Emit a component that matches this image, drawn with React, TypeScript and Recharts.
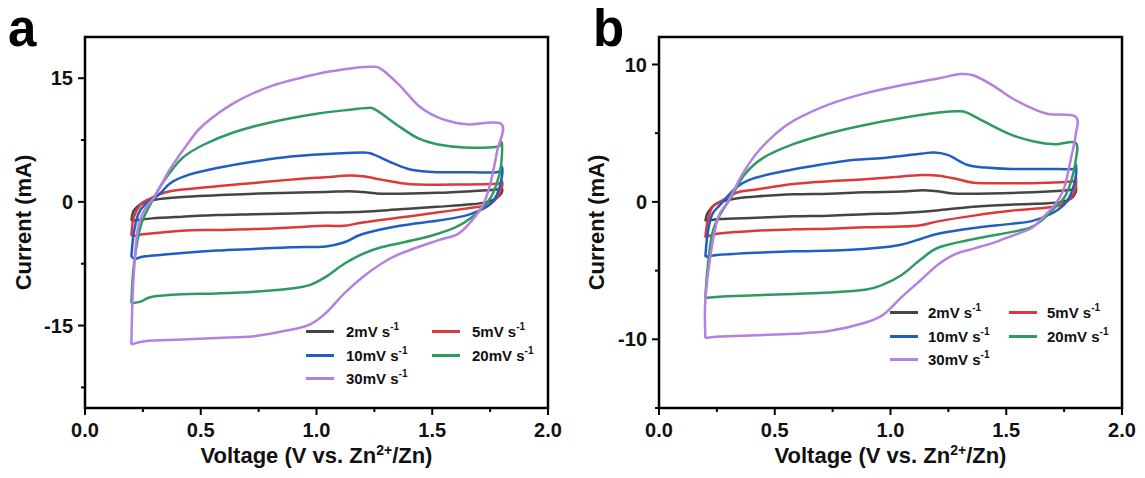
import React from 'react';
import { LineChart, Line, XAxis, YAxis, ReferenceArea, Legend } from 'recharts';

type Pt = [number, number];

// scan rates (mV/s) and colours
const RATES = ['2', '5', '10', '20', '30'];
const COLORS = ['#454545', '#dc3a3a', '#1f5fc4', '#2f9a60', '#b680df'];

// voltage ticks
const X_TICKS = [0, 0.25, 0.5, 0.75, 1, 1.25, 1.5, 1.75, 2];

// panel a: [V, mA] loops (anodic branch then cathodic branch)
const a2: Pt[] = [[0.2,-2.3],[0.21,-1.1],[0.24,-0.3],[0.275,0.1],[0.34,0.4],[0.42,0.6],[0.57,0.8],[0.73,1.0],[0.89,1.1],[1.04,1.2],[1.14,1.3],[1.2,1.2],[1.28,1.0],[1.36,1.0],[1.52,1.1],[1.67,1.3],[1.78,1.5],[1.8,1.7],
  [1.8,1.1],[1.78,0.5],[1.74,0],[1.67,-0.3],[1.52,-0.6],[1.36,-0.9],[1.2,-1.2],[1.04,-1.3],[0.89,-1.4],[0.73,-1.5],[0.57,-1.6],[0.42,-1.8],[0.29,-2.0],[0.23,-2.2],[0.2,-2.3]];
const a5: Pt[] = [[0.2,-4.1],[0.21,-1.9],[0.24,-0.3],[0.275,0.3],[0.34,1.1],[0.42,1.5],[0.57,1.9],[0.73,2.3],[0.89,2.7],[1.04,3.0],[1.14,3.2],[1.2,3.1],[1.28,2.7],[1.36,2.3],[1.44,2.1],[1.6,2.1],[1.78,2.2],[1.8,2.5],
  [1.8,1.7],[1.78,0.5],[1.74,-0.4],[1.67,-0.7],[1.52,-1.3],[1.36,-1.9],[1.2,-2.5],[1.12,-2.9],[1.04,-2.9],[0.89,-3.1],[0.73,-3.3],[0.57,-3.4],[0.42,-3.5],[0.26,-3.9],[0.22,-4.1],[0.2,-4.1]];
const a10: Pt[] = [[0.2,-6.7],[0.21,-3.9],[0.23,-1.5],[0.26,-0.3],[0.32,0.9],[0.37,2.3],[0.45,3.3],[0.57,4.1],[0.73,4.9],[0.89,5.5],[1.04,5.8],[1.2,6.0],[1.25,5.7],[1.33,4.7],[1.41,3.9],[1.52,3.6],[1.67,3.6],[1.78,3.6],[1.8,4.3],
  [1.8,2.9],[1.78,0.9],[1.75,-0.3],[1.7,-1.1],[1.64,-1.7],[1.52,-2.3],[1.36,-2.9],[1.2,-3.9],[1.12,-4.9],[1.04,-5.4],[0.89,-5.5],[0.73,-5.7],[0.57,-5.9],[0.42,-6.2],[0.26,-6.6],[0.22,-6.9],[0.2,-6.7]];
const a20: Pt[] = [[0.2,-12.3],[0.21,-7.9],[0.235,-3.5],[0.26,-1.5],[0.29,0.1],[0.34,2.5],[0.42,5.3],[0.51,6.9],[0.65,8.5],[0.81,9.7],[1.0,10.7],[1.12,11.1],[1.22,11.4],[1.26,11.1],[1.36,9.1],[1.44,7.7],[1.52,7.0],[1.64,6.6],[1.78,6.7],[1.8,7.2],
  [1.8,5.3],[1.79,3.3],[1.76,0.9],[1.73,-0.3],[1.67,-1.9],[1.6,-3.1],[1.52,-3.9],[1.44,-4.5],[1.28,-5.5],[1.2,-6.3],[1.12,-7.5],[1.04,-9.1],[0.97,-10.1],[0.89,-10.5],[0.73,-10.9],[0.57,-11.1],[0.42,-11.2],[0.29,-11.5],[0.24,-12.1],[0.2,-12.3]];
const a30: Pt[] = [[0.2,-17.3],[0.205,-12],[0.215,-7],[0.23,-3],[0.26,-0.8],[0.3,0.6],[0.34,2.6],[0.37,4.1],[0.45,7.3],[0.51,9.3],[0.65,12.1],[0.81,14.1],[1.0,15.5],[1.12,16.1],[1.23,16.4],[1.28,16.1],[1.36,14.1],[1.44,11.7],[1.52,10.3],[1.6,9.6],[1.66,9.4],[1.8,9.4],
  [1.78,6.1],[1.75,2.1],[1.72,-0.3],[1.67,-2.3],[1.61,-3.9],[1.52,-4.7],[1.36,-6.3],[1.28,-7.5],[1.2,-9.1],[1.12,-11.1],[1.04,-13.5],[0.97,-14.9],[0.89,-15.5],[0.73,-16.3],[0.57,-16.5],[0.42,-16.7],[0.26,-16.9],[0.2,-17.3]];

// panel b
const b2: Pt[] = [[0.2,-1.4],[0.21,-0.8],[0.24,-0.2],[0.28,0.07],[0.34,0.27],[0.42,0.4],[0.58,0.55],[0.735,0.6],[0.89,0.7],[1.05,0.75],[1.14,0.85],[1.21,0.75],[1.29,0.6],[1.52,0.65],[1.68,0.75],[1.79,0.9],[1.8,1.1],
  [1.8,0.7],[1.78,0.25],[1.74,0],[1.68,-0.1],[1.52,-0.2],[1.36,-0.35],[1.21,-0.6],[1.05,-0.8],[0.89,-0.9],[0.735,-1.0],[0.58,-1.05],[0.42,-1.15],[0.26,-1.25],[0.22,-1.35],[0.2,-1.4]];
const b5: Pt[] = [[0.2,-2.6],[0.21,-1.4],[0.23,-0.4],[0.27,0.07],[0.34,0.7],[0.42,0.9],[0.58,1.3],[0.735,1.5],[0.89,1.65],[1.05,1.85],[1.14,1.95],[1.21,1.9],[1.29,1.65],[1.36,1.4],[1.52,1.35],[1.68,1.4],[1.79,1.5],[1.8,1.8],
  [1.8,1.0],[1.78,0.3],[1.74,-0.2],[1.68,-0.4],[1.52,-0.65],[1.36,-1.0],[1.21,-1.4],[1.13,-1.7],[1.05,-1.8],[0.89,-1.85],[0.735,-1.95],[0.58,-2.0],[0.42,-2.1],[0.26,-2.3],[0.22,-2.45],[0.2,-2.6]];
const b10: Pt[] = [[0.2,-4.0],[0.21,-2.3],[0.23,-0.9],[0.265,-0.2],[0.33,1.0],[0.39,1.6],[0.5,2.1],[0.66,2.6],[0.81,3.0],[0.97,3.2],[1.13,3.5],[1.19,3.6],[1.25,3.4],[1.33,2.7],[1.41,2.5],[1.52,2.4],[1.68,2.4],[1.79,2.4],[1.8,2.7],
  [1.8,1.8],[1.78,0.6],[1.75,-0.2],[1.69,-0.9],[1.61,-1.4],[1.52,-1.6],[1.36,-1.9],[1.21,-2.3],[1.13,-2.7],[1.05,-3.1],[0.97,-3.3],[0.81,-3.5],[0.58,-3.6],[0.42,-3.7],[0.26,-3.85],[0.2,-4.0]];
const b20: Pt[] = [[0.2,-7.0],[0.21,-4.8],[0.23,-2.3],[0.265,-0.9],[0.31,0.3],[0.37,2.0],[0.45,3.2],[0.58,4.2],[0.735,5.0],[0.89,5.6],[1.05,6.1],[1.21,6.5],[1.29,6.6],[1.33,6.5],[1.41,5.8],[1.52,4.9],[1.62,4.4],[1.71,4.2],[1.8,4.3],
  [1.8,3.0],[1.78,1.5],[1.75,0.3],[1.71,-0.4],[1.65,-1.4],[1.6,-1.9],[1.52,-2.2],[1.36,-2.7],[1.21,-3.3],[1.13,-4.2],[1.05,-5.3],[0.97,-6.0],[0.89,-6.4],[0.735,-6.6],[0.58,-6.7],[0.42,-6.8],[0.26,-6.9],[0.2,-7.0]];
const b30: Pt[] = [[0.2,-9.9],[0.2,-7.2],[0.225,-3.6],[0.256,-1.1],[0.3,0.07],[0.36,2.0],[0.42,3.5],[0.5,4.9],[0.58,5.9],[0.735,7.1],[0.89,7.9],[1.05,8.5],[1.21,9.0],[1.3,9.3],[1.36,9.2],[1.44,8.5],[1.52,7.6],[1.6,6.9],[1.68,6.4],[1.8,6.2],
  [1.8,4.9],[1.78,3.2],[1.75,1.0],[1.71,-0.2],[1.66,-1.1],[1.61,-1.9],[1.52,-2.5],[1.44,-3.0],[1.36,-3.4],[1.28,-3.8],[1.21,-4.5],[1.13,-5.7],[1.05,-6.9],[0.97,-8.2],[0.89,-8.8],[0.735,-9.4],[0.58,-9.6],[0.42,-9.7],[0.26,-9.8],[0.2,-9.9]];

const FONT = '"Liberation Sans", Arial, sans-serif';
const toRows = (pts: Pt[]) => pts.map(([v, i]) => ({ v, i }));

// cardinal (Catmull-Rom style) curve for closed CV loops, passes through every point
const smoothCurve = (context: any) => {
  let pts: Pt[] = [];
  return {
    areaStart() {},
    areaEnd() {},
    lineStart() { pts = []; },
    lineEnd() {
      if (!pts.length) return;
      context.moveTo(pts[0][0], pts[0][1]);
      const t = 1 / 6;
      for (let k = 0; k < pts.length - 1; k++) {
        const p0 = pts[k - 1] || pts[k];
        const p1 = pts[k];
        const p2 = pts[k + 1];
        const p3 = pts[k + 2] || p2;
        context.bezierCurveTo(
          p1[0] + (p2[0] - p0[0]) * t, p1[1] + (p2[1] - p0[1]) * t,
          p2[0] - (p3[0] - p1[0]) * t, p2[1] - (p3[1] - p1[1]) * t,
          p2[0], p2[1],
        );
      }
    },
    point(x: number, y: number) { pts.push([x, y]); },
  };
};

const XTick = (props: any) => {
  const { x, y, payload } = props;
  const val = payload.value as number;
  const major = Math.abs(val * 2 - Math.round(val * 2)) < 1e-6;
  return (
    <g>
      <line x1={x} x2={x} y1={y} y2={y + (major ? 7 : 4)} stroke="#000" strokeWidth={2} />
      {major && (
        <text x={x} y={y + 15} dy="0.71em" textAnchor="middle" fontSize={20} fontWeight="bold" fontFamily={FONT} fill="#111">
          {val.toFixed(1)}
        </text>
      )}
    </g>
  );
};

const makeYTick = (majors: number[]) => (props: any) => {
  const { x, y, payload } = props;
  const major = majors.includes(payload.value);
  return (
    <g>
      <line x1={x} x2={x - (major ? 7 : 4)} y1={y} y2={y} stroke="#000" strokeWidth={2} />
      {major && (
        <text x={x - 12} y={y} dy="0.355em" textAnchor="end" fontSize={20} fontWeight="bold" fontFamily={FONT} fill="#111">
          {payload.value}
        </text>
      )}
    </g>
  );
};

const XTitle = (props: any) => {
  const { x, y, width } = props.viewBox;
  return (
    <text x={x + width / 2} y={y + 55} textAnchor="middle" fontSize={22} fontWeight="bold" fontFamily={FONT} fill="#111">
      Voltage (V vs. Zn<tspan dy={-8} fontSize={14}>2+</tspan><tspan dy={8}>/Zn)</tspan>
    </text>
  );
};

const YTitle = (props: any) => {
  const { x, y, height } = props.viewBox;
  const cx = x + 23;
  const cy = y + height / 2;
  return (
    <text x={cx} y={cy} transform={`rotate(-90, ${cx}, ${cy})`} textAnchor="middle" dominantBaseline="central"
      fontSize={22} fontWeight="bold" fontFamily={FONT} fill="#111">
      Current (mA)
    </text>
  );
};

const rateOf = (name: string) => RATES.indexOf(String(name).replace('mV', ''));

const makeLegend = (colWidth: number, gap: number) => (props: any) => {
  const items = [...(props.payload || [])].sort((p: any, q: any) => rateOf(p.value) - rateOf(q.value));
  return (
    <div style={{ display: 'grid', gridTemplateColumns: `${colWidth}px auto`, fontFamily: FONT, fontWeight: 'bold', fontSize: 15, color: '#111' }}>
      {items.map((it: any) => (
        <div key={it.value} style={{ display: 'flex', alignItems: 'center', height: 23.5, whiteSpace: 'nowrap' }}>
          <span style={{ display: 'inline-block', width: 28, height: 3, background: it.color, marginRight: gap }} />
          <span>
            {it.value} s<sup style={{ fontSize: 10, verticalAlign: 'top', position: 'relative', top: -2 }}>-1</sup>
          </span>
        </div>
      ))}
    </div>
  );
};

interface PanelProps {
  series: Pt[][];
  yDomain: [number, number];
  yTicks: number[];
  yMajors: number[];
  yAxisWidth: number;
  rightMargin: number;
  width: number;
  legendPos: { left: number; top: number };
  legendCol: number;
  legendGap: number;
}

const Panel: React.FC<PanelProps> = ({ series, yDomain, yTicks, yMajors, yAxisWidth, rightMargin, width, legendPos, legendCol, legendGap }) => (
  <LineChart width={width} height={478} margin={{ top: 37, right: rightMargin, bottom: 10, left: 0 }}>
    <XAxis
      type="number"
      dataKey="v"
      domain={[0, 2]}
      ticks={X_TICKS}
      interval={0}
      height={60}
      tickSize={0}
      tickMargin={0}
      axisLine={false}
      tickLine={false}
      tick={<XTick />}
      label={<XTitle />}
      allowDataOverflow
    />
    <YAxis
      type="number"
      domain={yDomain}
      ticks={yTicks}
      interval={0}
      width={yAxisWidth}
      tickSize={0}
      tickMargin={0}
      axisLine={false}
      tickLine={false}
      tick={makeYTick(yMajors)}
      label={<YTitle />}
      allowDataOverflow
    />
    <ReferenceArea x1={0} x2={2} y1={yDomain[0]} y2={yDomain[1]} fill="none" stroke="#000" strokeWidth={2.5} ifOverflow="visible" />
    {series.map((pts, k) => (
      <Line
        key={RATES[k]}
        data={toRows(pts)}
        dataKey="i"
        name={`${RATES[k]}mV`}
        type={smoothCurve as any}
        stroke={COLORS[k]}
        strokeWidth={2.5}
        dot={false}
        activeDot={false}
        isAnimationActive={false}
      />
    ))}
    <Legend
      layout="horizontal"
      verticalAlign="middle"
      align="center"
      wrapperStyle={{ left: legendPos.left, top: legendPos.top, width: 260 }}
      content={makeLegend(legendCol, legendGap)}
    />
  </LineChart>
);

const letterStyle: React.CSSProperties = {
  position: 'absolute',
  top: 0,
  fontFamily: FONT,
  fontWeight: 'bold',
  fontSize: 51,
  lineHeight: '57px',
  color: '#000',
};

export default function App() {
  return (
    <div style={{ position: 'absolute', left: 0, top: 0, width: 1145, height: 478, background: '#fff', overflow: 'hidden' }}>
      <div style={{ position: 'absolute', left: 0, top: 0 }}>
        <Panel
          series={[a2, a5, a10, a20, a30]}
          yDomain={[-25, 20]}
          yTicks={[-22.5, -15, -7.5, 0, 7.5, 15]}
          yMajors={[-15, 0, 15]}
          yAxisWidth={85}
          rightMargin={22}
          width={570}
          legendPos={{ left: 306, top: 320 }}
          legendCol={126}
          legendGap={12}
        />
      </div>
      <div style={{ position: 'absolute', left: 573, top: 0 }}>
        <Panel
          series={[b2, b5, b10, b20, b30]}
          yDomain={[-15, 12]}
          yTicks={[-15, -10, -5, 0, 5, 10]}
          yMajors={[-10, 0, 10]}
          yAxisWidth={86}
          rightMargin={23}
          width={572}
          legendPos={{ left: 317, top: 301 }}
          legendCol={119}
          legendGap={10}
        />
      </div>
      <div style={{ ...letterStyle, left: 8 }}>a</div>
      <div style={{ ...letterStyle, left: 593 }}>b</div>
    </div>
  );
}
